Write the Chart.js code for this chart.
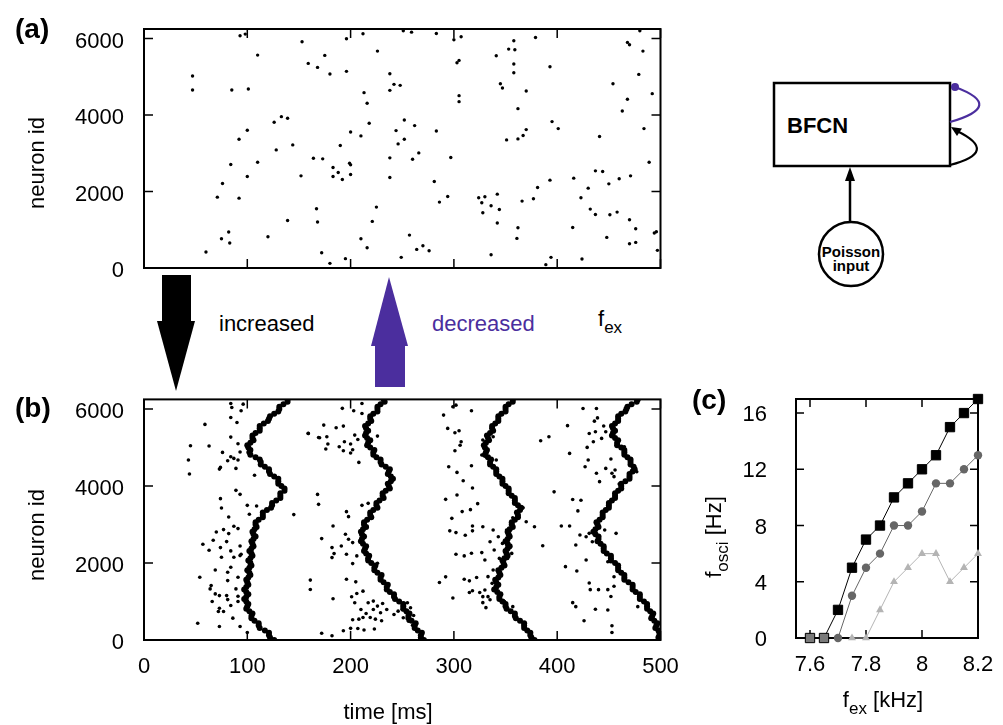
<!DOCTYPE html>
<html>
<head>
<meta charset="utf-8">
<script src="https://cdn.jsdelivr.net/npm/chart.js@4.4.1/dist/chart.umd.min.js"></script>
<style>
  html, body { margin: 0; padding: 0; background: #fff; }
  #fig { position: relative; width: 1003px; height: 725px; overflow: hidden;
         font-family: 'Liberation Sans', Arial, Helvetica, sans-serif; color: #000; }
  canvas { position: absolute; }
  .t { position: absolute; white-space: nowrap; font-size: 22px; line-height: 1; }
  .panel { font-weight: bold; font-size: 28px; }
  .rot { transform: translate(-50%, -50%) rotate(-90deg); }
  .mid { transform: translate(-50%, -50%); }
  .sub { font-size: 17px; position: relative; top: 7px; }
  svg { position: absolute; left: 0; top: 0; }
</style>
</head>
<body>
<div id="fig">
  <svg width="1003" height="725">
    <!-- big arrows between (a) and (b) -->
    <rect x="162" y="275" width="29" height="47" fill="#000"/>
    <polygon points="157,321 195,321 176,391" fill="#000"/>
    <rect x="375" y="345" width="30" height="42" fill="#4b2e9e"/>
    <polygon points="371,346 408,346 389,277" fill="#4b2e9e"/>
    <!-- schematic -->
    <rect x="774" y="83" width="176" height="83" fill="none" stroke="#000" stroke-width="2.5"/>
    <text x="787" y="133" font-size="22" font-weight="bold" font-family="Liberation Sans, Arial, sans-serif">BFCN</text>
    <path d="M955 87 Q1006 106 950 122" fill="none" stroke="#4b2e9e" stroke-width="2.2"/>
    <circle cx="955" cy="87" r="4" fill="#4b2e9e"/>
    <path d="M950 165 Q1000 152 957 131" fill="none" stroke="#000" stroke-width="2.2"/>
    <polygon points="951,127 962,128.5 957,136" fill="#000"/>
    <line x1="850" y1="222" x2="850" y2="178" stroke="#000" stroke-width="2.5"/>
    <polygon points="850,167 845,181 855,181" fill="#000"/>
    <circle cx="851" cy="254" r="32" fill="#fff" stroke="#000" stroke-width="2.5"/>
    <text x="851" y="257" text-anchor="middle" font-size="15" font-weight="bold" font-family="Liberation Sans, Arial, sans-serif">Poisson</text>
    <text x="851" y="271" text-anchor="middle" font-size="15" font-weight="bold" font-family="Liberation Sans, Arial, sans-serif">input</text>
  </svg>

  <canvas id="chartA" width="700" height="290" style="left:0;top:0;width:700px;height:290px"></canvas>
  <canvas id="chartB" width="700" height="320" style="left:0;top:380px;width:700px;height:320px"></canvas>
  <canvas id="chartC" width="313" height="345" style="left:690px;top:380px;width:313px;height:345px"></canvas>

  <div class="t panel" style="left:15px;top:15px">(a)</div>
  <div class="t panel" style="left:15px;top:394px">(b)</div>
  <div class="t panel" style="left:692px;top:386px">(c)</div>

  <div class="t rot" style="left:37px;top:163px">neuron id</div>
  <div class="t rot" style="left:37px;top:535px">neuron id</div>
  <div class="t mid" style="left:388px;top:712px">time [ms]</div>

  <div class="t" style="left:219px;top:313px">increased</div>
  <div class="t" style="left:432px;top:313px;color:#4b2e9e">decreased</div>
  <div class="t" style="left:598px;top:308px">f<span class="sub">ex</span></div>

  <div class="t rot" style="left:714px;top:537px">f<span class="sub">osci</span> [Hz]</div>
  <div class="t mid" style="left:883px;top:700px">f<span class="sub">ex</span> [kHz]</div>
</div>

<script>
// ---- panel (a): sparse raster, [time ms, neuron id]
const spikesA = [
  [47,5020],[47,4655],[60,418],[71,1853],[76,2210],[84,2706],[85,4655],[75,766],[82,940],[83,652],
  [92,1827],[92,3367],[93,6073],[98,6116],[100,3602],[100,2392],[101,4680],[110,5568],[110,2767],[120,818],
  [126,3811],[128,3089],[133,3958],[139,3915],[139,1244],[144,3219],[152,2410],[153,5916],[159,5350],[164,2871],
  [167,1549],[168,5246],[168,1201],[172,400],[173,2854],[175,5559],[180,5072],[180,122],[183,2627],[183,2392],
  [188,2497],[190,3202],[192,2314],[195,244],[196,5994],[196,5142],[199,2740],[200,2697],[200,3558],[200,2445],
  [210,3454],[210,766],[212,6125],[213,4585],[216,4307],[216,531],[218,3785],[221,1218],[225,1592],[226,5672],
  [238,5081],[238,2880],[238,2366],[238,4646],[242,4802],[244,3593],[246,3245],[248,4776],
  [251,6203],[259,6168],[283,6134],[300,5968],[307,6046],[303,5368],[305,5429],[305,4507],[305,4350],[252,3872],
  [262,3724],[252,3367],[266,3010],[260,2845],[283,3584],[297,2888],[281,2262],[286,1723],[294,1870],[257,861],
  [264,487],[270,583],[276,452],[249,278],[324,1836],[327,1705],[330,1862],[328,1444],[336,1627],[342,1931],
  [344,1531],[342,1175],[336,348],[341,5551],[345,4820],[347,4707],[353,5725],[358,5942],[359,5707],[358,5333],
  [358,5107],[379,6029],[370,4628],[362,4167],[351,3350],[362,3376],[367,3463],[370,3619],[366,1749],[377,1810],
  [381,2105],[362,1053],[361,774],[389,87],[394,278],[393,5264],[395,3828],[401,3645],[393,2297],[416,2349],
  [415,1061],[424,235],[423,1836],[430,2088],[432,1540],[437,1401],[437,2540],[444,2523],[441,3437],[450,2201],
  [451,1392],[458,1462],[460,2332],[448,800],[454,4820],[463,4106],[468,4411],[468,5899],[470,5838],[480,6203],
  [483,5672],[479,5063],[492,4559],[484,3645],[489,2767],[471,2410],[470,1262],[476,1027],[470,635],[476,670],
  [494,914],[496,948],[497,461]
];

// ---- panel (b): the four dense wave fronts, one time per neuron-id level
const bandIds = [6250,6125,6000,5875,5750,5625,5500,5375,5250,5125,5000,4875,4750,4625,4500,4375,4250,4125,4000,3875,
  3750,3625,3500,3375,3250,3125,3000,2875,2750,2625,2500,2375,2250,2125,2000,1875,1750,1625,1500,1375,
  1250,1125,1000,875,750,625,500,375,250,125,0];
const wave1T = [139,135,131,126,121,116,112,108,105,103,101,102,108,113,117,121,126,130,133,136,
  132,128,124,119,115,111,108,107,106,106,105,104,104,103,103,102,102,101,100,99,
  99,99,99,100,102,104,107,111,117,121,126];
const wave2T = [232,229,226,222,219,217,215,215,216,217,219,222,225,229,234,237,239,239,237,234,
  231,228,225,222,219,216,213,212,211,211,212,214,215,217,220,223,226,229,232,235,
  238,242,247,251,254,256,259,262,265,268,271];
const wave3T = [357,353,350,346,343,340,337,335,333,331,330,331,333,335,338,341,344,347,350,353,
  356,359,362,364,362,359,356,354,353,352,352,352,351,349,348,346,344,343,341,341,
  342,344,347,350,355,359,364,368,371,374,378];
const wave4T = [478,472,467,462,459,456,454,454,456,458,462,465,468,471,474,473,470,466,462,459,
  456,453,450,447,444,441,439,437,437,440,442,445,448,452,456,459,462,465,469,473,
  476,480,484,487,490,492,494,496,498,499,500];

// second row of the fronts, read between the levels above
const bandIdsHalf = [6187,6062,5937,5812,5687,5562,5437,5312,5187,5062,4937,4812,4687,4562,4437,4312,4187,4062,3937,3812,
  3687,3562,3437,3312,3187,3062,2937,2812,2687,2562,2437,2312,2187,2062,1937,1812,1687,1562,1437,1312,
  1187,1062,937,812,687,562,437,312,187,62];
const wave1Tb = [139,131,130,122,120,112,112,105,106,100,103,103,112,113,121,122,130,130,136,132,
  132,124,123,115,115,108,109,105,108,104,106,102,105,101,104,100,103,99,101,97,
  101,97,101,99,105,104,111,112,121,122];
const wave2Tb = [233,226,226,219,220,214,217,214,219,216,223,222,229,230,238,236,241,236,238,231,
  232,225,226,219,220,213,215,210,213,210,215,213,218,217,224,223,230,229,236,235,
  242,243,251,251,257,256,263,262,269,268];
const wave3Tb = [357,350,350,343,343,337,338,332,334,329,332,330,336,335,341,341,347,347,353,353,
  359,359,365,361,362,356,357,352,354,350,354,350,352,347,349,343,345,340,343,339,
  345,344,350,351,359,360,368,368,374,375];
const wave4Tb = [477,468,466,459,459,453,456,453,459,458,465,465,471,471,475,470,470,462,462,456,
  456,450,450,444,444,438,440,435,440,439,445,445,452,452,459,459,465,465,473,473,
  480,480,487,487,493,491,497,495,499,498];

// ---- panel (b): scattered spikes around the fronts, [time ms, neuron id]
const spikesB = [
  [59,5600],[45,5047],[63,5038],[43,4674],[44,4311],[74,4484],[76,4873],[73,4440],[81,4657],[84,4761],
  [87,4717],[91,4674],[89,4458],[84,6143],[85,6040],[84,5781],[90,5651],[84,5271],[91,5098],[93,4882],
  [96,6126],[94,5954],[159,5367],[170,5254],[168,3782],[107,4278],[89,3888],[93,3784],[74,3672],[75,3430],
  [82,3196],[100,3498],[102,3265],[109,3481],[145,3257],[87,2954],[70,2807],[77,2868],[82,2764],[91,2894],
  [57,2487],[67,2590],[63,2331],[80,2556],[74,2400],[84,2314],[93,2443],[94,2227],[75,2149],[87,2149],
  [93,2192],[84,1889],[81,1760],[69,1820],[54,1630],[91,1630],[81,1543],[65,1413],[64,1327],[69,1197],
  [73,1154],[80,1154],[89,1327],[91,1137],[66,1000],[81,1050],[84,895],[91,1000],[73,826],[77,740],
  [72,740],[86,567],[52,437],[73,350],[93,350],[100,195],[161,1556],
  [192,6017],[211,6143],[203,5954],[211,5885],[174,5582],[159,5366],[169,5262],[177,5280],[186,5513],[193,5556],
  [178,5090],[176,4960],[189,5020],[194,5150],[193,4916],[200,5090],[200,4856],[204,5323],[207,5210],[226,5297],
  [208,4614],[202,4942],[169,3524],[211,3498],[217,3550],[196,3334],[198,3204],[183,2963],[172,2634],[195,2746],
  [198,2616],[182,2400],[191,2443],[202,2530],[182,2141],[184,2244],[196,2227],[202,1985],[206,2184],[226,1994],
  [196,1580],[205,1510],[161,1313],[183,1070],[201,1122],[206,1209],[204,966],[212,1269],[217,966],[222,1010],
  [226,880],[231,950],[210,792],[215,690],[222,792],[229,707],[235,792],[202,525],[208,541],[212,585],
  [219,585],[224,541],[230,500],[207,300],[213,260],[242,663],[246,750],[172,174],[193,242],[200,303],
  [223,285],[182,112],[250,790],[254,707],[258,836],[251,577],[256,490],[261,636],[255,966],[260,380],
  [290,5842],[299,6060],[302,6100],[317,5954],[294,5497],[301,5384],[305,5436],[301,4916],[307,5150],[306,5060],
  [295,4500],[303,4354],[309,4137],[317,4527],[318,3948],[323,3542],[303,3766],[292,3653],[308,3335],[316,3386],
  [298,3160],[296,2835],[302,2790],[311,2720],[318,2963],[318,2835],[302,2227],[310,2184],[317,2254],[327,2270],
  [292,1640],[286,1493],[310,1580],[315,1536],[322,1622],[318,1280],[315,1235],[325,1235],[299,1090],[328,970],
  [331,840],[335,1045],[328,2943],[338,2856],[343,2683],[335,2553],[347,2510],[354,2424],[339,2337],[330,2077],
  [344,2120],[352,2120],[356,2250],[338,1817],[333,1645],[343,1645],[337,1472],[330,1299],[341,1299],[328,1126],
  [333,1126],[349,996],[357,866],[367,3435],[357,3175],[351,2856],[328,5194],[327,4805],[331,4761],[338,5280],
  [341,4674],[384,5176],[392,5280],[410,5568],[412,4847],[397,3848],[415,3648],[420,3353],[423,3630],[425,6013],
  [438,6013],[436,5685],[439,5770],[431,5366],[437,5410],[445,5560],[429,5003],[435,5150],[443,5237],[447,5410],
  [430,4674],[438,4330],[441,4114],[427,4500],[447,4458],[452,4700],[453,4330],[455,4243],[456,4417],[465,5020],
  [470,4657],[477,4370],[460,4050],[378,2943],[370,3073],[404,2960],[412,2960],[386,2450],[418,2467],[428,2683],
  [431,2770],[422,2726],[434,2553],[408,1905],[419,1792],[428,2077],[449,2033],[455,1644],[431,1480],[432,1308],
  [440,1308],[449,1308],[455,1395],[452,1130],[415,970],[418,866],[437,797],[426,500],[453,370],[453,196],
  [449,780],[446,2856],[457,2770],[478,866]
];

// ---- panel (c): oscillation frequency vs external rate
const fexSquare = [7.6,7.65,7.7,7.75,7.8,7.85,7.9,7.95,8.0,8.05,8.1,8.15,8.2];
const oscSquare = [0,0,2,5,7,8,10,11,12,13,15,16,17];
const fexCircle = [7.7,7.75,7.8,7.85,7.9,7.95,8.0,8.05,8.1,8.15,8.2];
const oscCircle = [0,3,5,6,8,8,9,11,11,12,13];
const fexTriangle = [7.75,7.8,7.85,7.9,7.95,8.0,8.05,8.1,8.15,8.2];
const oscTriangle = [0,0,2,4,5,6,6,4,5,6];

const timeTicks = [0,100,200,300,400,500];
const idTicks = [0,2000,4000,6000];
const fexTicks = [7.6,7.8,8.0,8.2];
const oscTicks = [0,4,8,12,16];

const purple = '#4b2e9e';
const tickFont = { family: "'Liberation Sans', Arial, Helvetica, sans-serif", size: 22 };

// gnuplot-like closed frame with inward ticks on all four sides
const gnuFrame = {
  id: 'gnuFrame',
  beforeDatasetsDraw(chart, args, opts) {
    const { ctx, chartArea: a, scales: { x, y } } = chart;
    const len = opts.tick || 9;
    ctx.save();
    ctx.strokeStyle = '#000';
    ctx.lineWidth = 1.5;
    ctx.beginPath();
    x.ticks.forEach(t => {
      const px = x.getPixelForValue(t.value);
      ctx.moveTo(px, a.bottom); ctx.lineTo(px, a.bottom - len);
      ctx.moveTo(px, a.top); ctx.lineTo(px, a.top + len);
    });
    y.ticks.forEach(t => {
      const py = y.getPixelForValue(t.value);
      ctx.moveTo(a.left, py); ctx.lineTo(a.left + len, py);
      ctx.moveTo(a.right, py); ctx.lineTo(a.right - len, py);
    });
    ctx.stroke();
    ctx.lineWidth = 2;
    ctx.strokeRect(a.left, a.top, a.right - a.left, a.bottom - a.top);
    ctx.restore();
  }
};

const setTicks = list => scale => { scale.ticks = list.map(v => ({ value: v })); };
const asPoints = pairs => pairs.map(([t, id]) => ({ x: t, y: id }));
const plain = v => String(+Number(v).toFixed(1));
// fixed axis boxes, and no extra room for labels that overhang the plot
const fixX = h => s => { s.height = h; s.paddingLeft = 0; s.paddingRight = 0; };
const fixY = w => s => { s.width = w; s.paddingTop = 0; s.paddingBottom = 0; };

function rasterOptions(padTop, xHeight, showX) {
  return {
    responsive: false,
    animation: false,
    devicePixelRatio: 1,
    layout: { padding: { top: padTop, right: 39.5, left: 0, bottom: 0 } },
    plugins: { legend: { display: false }, tooltip: { enabled: false }, gnuFrame: { tick: 9 } },
    scales: {
      x: {
        type: 'linear', min: 0, max: 500,
        grid: { display: false, drawTicks: false }, border: { display: false },
        ticks: { display: showX, font: tickFont, color: '#000', padding: 14, maxRotation: 0, callback: plain },
        afterBuildTicks: setTicks(timeTicks),
        afterFit: fixX(xHeight)
      },
      y: {
        type: 'linear', min: 0, max: 6250,
        grid: { display: false, drawTicks: false }, border: { display: false },
        ticks: { font: tickFont, color: '#000', padding: 20, labelOffset: 3, callback: plain },
        afterBuildTicks: setTicks(idTicks),
        afterFit: fixY(144)
      }
    }
  };
}

new Chart(document.getElementById('chartA'), {
  type: 'scatter',
  data: {
    datasets: [{ data: asPoints(spikesA), pointRadius: 1.7, backgroundColor: '#000', borderWidth: 0 }]
  },
  options: rasterOptions(29, 22, false),
  plugins: [gnuFrame]
});

const bandPoints = [wave1T, wave2T, wave3T, wave4T]
  .flatMap(ts => ts.map((t, i) => ({ x: t, y: bandIds[i] })))
  .concat([wave1Tb, wave2Tb, wave3Tb, wave4Tb]
    .flatMap(ts => ts.map((t, i) => ({ x: t, y: bandIdsHalf[i] }))));

new Chart(document.getElementById('chartB'), {
  type: 'scatter',
  data: {
    datasets: [
      { data: bandPoints, pointRadius: 3, backgroundColor: '#000', borderWidth: 0 },
      { data: asPoints(spikesB), pointRadius: 1.8, backgroundColor: '#000', borderWidth: 0 }
    ]
  },
  options: rasterOptions(19.4, 60, true),
  plugins: [gnuFrame]
});

const xy = (xs, ys) => xs.map((v, i) => ({ x: v, y: ys[i] }));

new Chart(document.getElementById('chartC'), {
  type: 'scatter',
  data: {
    datasets: [
      {
        data: xy(fexSquare, oscSquare), showLine: true, borderColor: '#000', borderWidth: 1,
        pointStyle: 'rect', pointRadius: 6.6, pointBorderWidth: 1, pointBorderColor: '#000',
        pointBackgroundColor: oscSquare.map((v, i) => i < 2 ? '#7a7a7a' : '#000'), clip: false
      },
      {
        data: xy(fexCircle, oscCircle), showLine: true, borderColor: '#666', borderWidth: 1,
        pointStyle: 'circle', pointRadius: 4.2, pointBorderWidth: 0, pointBackgroundColor: '#666', clip: false
      },
      {
        data: xy(fexTriangle, oscTriangle), showLine: true, borderColor: '#b4b4b4', borderWidth: 1,
        pointStyle: 'triangle', pointRadius: 4.6, pointBorderWidth: 0, pointBackgroundColor: '#b4b4b4', clip: false
      }
    ]
  },
  options: {
    responsive: false,
    animation: false,
    devicePixelRatio: 1,
    layout: { padding: { top: 19, right: 25, left: 0, bottom: 0 } },
    plugins: { legend: { display: false }, tooltip: { enabled: false }, gnuFrame: { tick: 8 } },
    scales: {
      x: {
        type: 'linear', min: 7.55, max: 8.2,
        grid: { display: false, drawTicks: false }, border: { display: false },
        ticks: { font: tickFont, color: '#000', padding: 14, maxRotation: 0, callback: plain },
        afterBuildTicks: setTicks(fexTicks),
        afterFit: fixX(87)
      },
      y: {
        type: 'linear', min: 0, max: 17,
        grid: { display: false, drawTicks: false }, border: { display: false },
        ticks: { font: tickFont, color: '#000', padding: 29, labelOffset: 2, callback: plain },
        afterBuildTicks: setTicks(oscTicks),
        afterFit: fixY(106)
      }
    }
  },
  plugins: [gnuFrame]
});
</script>
</body>
</html>
